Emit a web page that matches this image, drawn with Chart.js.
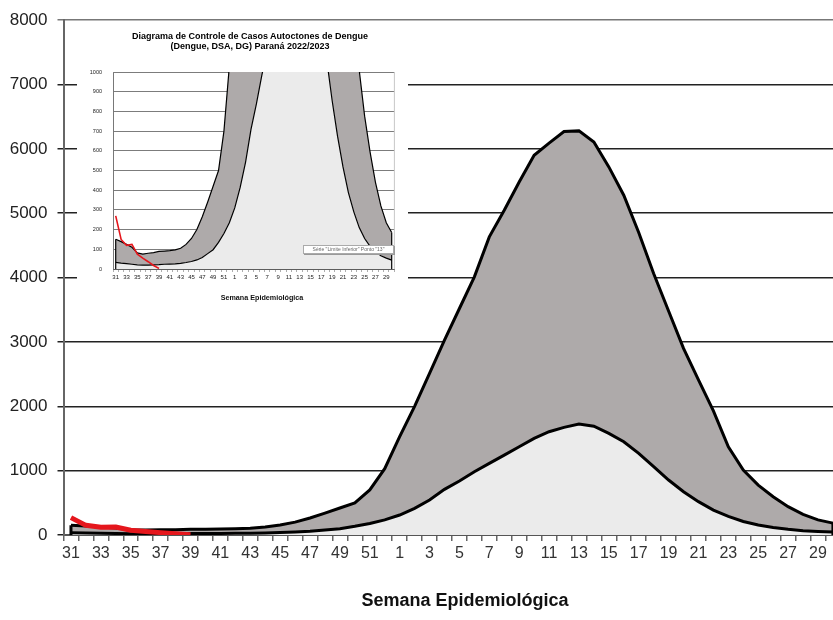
<!DOCTYPE html>
<html>
<head>
<meta charset="utf-8">
<script src="https://cdn.jsdelivr.net/npm/chart.js@4.4.0/dist/chart.umd.min.js"></script>
<style>
  html, body { margin: 0; padding: 0; background: #fff; overflow: hidden; width: 833px; height: 620px; }
  #main-wrap { position: absolute; left: 0; top: 0; width: 845px; height: 620px; }
  #inset-wrap { position: absolute; left: 77px; top: 23px; width: 331px; height: 282px; background: #fff; }
  .axis-title { position: absolute; font-family: 'Liberation Sans', Arial, sans-serif; font-weight: bold; color: #111; text-align: center; white-space: nowrap; }
  #main-xtitle { left: 315px; width: 300px; top: 589px; font-size: 18px; line-height: 22px; }
  #inset-title { left: 0; width: 346px; top: 7.5px; font-size: 9px; line-height: 10px; color: #000; }
  #inset-xtitle { left: 108px; width: 154px; top: 270px; font-size: 7.2px; line-height: 9px; }
  #inset-note { position: absolute; left: 226px; top: 222px; width: 89px; height: 7px; border: 1px solid #aaa; background: #fff;
    box-shadow: 1px 1px 0 #999; font-family: 'Liberation Sans', Arial, sans-serif; font-size: 5px; line-height: 7px; color: #666; text-align: center; white-space: nowrap; }
</style>
</head>
<body>
<div id="main-wrap"><canvas id="main"></canvas></div>
<div id="main-xtitle" class="axis-title">Semana Epidemiológica</div>
<div id="inset-wrap">
  <canvas id="inset"></canvas>
  <div id="inset-title" class="axis-title">Diagrama de Controle de Casos Autoctones de Dengue<br>(Dengue, DSA, DG) Paraná 2022/2023</div>
  <div id="inset-xtitle" class="axis-title">Semana Epidemiológica</div>
  <div id="inset-note">Série "Limite Inferior" Ponto "13"</div>
</div>
<script>
// epidemiological weeks, season 2022/2023
const weeks = ['31','32','33','34','35','36','37','38','39','40','41','42','43','44','45','46','47','48','49','50','51','52',
  '1','2','3','4','5','6','7','8','9','10','11','12','13','14','15','16','17','18','19','20','21','22','23','24','25','26','27','28','29','30'];

// control diagram limits
const lowerLimit = [34,30,27,24,21,20,20,21,22,24,25,26,29,33,38,46,58,78,98,135,180,235,
  310,414,543,709,838,983,1113,1242,1371,1501,1605,1672,1723,1690,1579,1449,1268,1061,854,673,518,388,290,210,155,115,88,67,55,45];
const upperLimit = [151,139,125,110,82,76,80,83,89,91,93,97,105,125,155,200,265,340,420,500,700,1030,
  1527,2000,2512,3028,3520,4012,4633,5047,5486,5900,6090,6270,6280,6108,5720,5280,4700,4063,3480,2900,2410,1930,1371,1009,776,595,440,320,235,185];

// autochthonous cases so far
const cases = [270,150,120,125,75,55,37,18,3];

const yTicksMain = 1000;
const yTicksInset = 100;

const family = "'Liberation Sans', Arial, sans-serif";
const fillLight = '#ebebeb';
const fillDark = '#aeaaaa';

// black vertical sides of the band at both ends (like the excel area border)
const edgePlugin = {
  id: 'edges',
  afterDatasetsDraw(chart, args, opts) {
    const { ctx, scales: { x, y }, chartArea } = chart;
    const last = weeks.length - 1;
    ctx.save();
    ctx.beginPath();
    ctx.rect(chartArea.left, chartArea.top, chartArea.width, chartArea.height);
    ctx.clip();
    ctx.strokeStyle = '#000';
    ctx.lineWidth = opts.width;
    [0, last].forEach(i => {
      const px = x.getPixelForValue(i);
      ctx.beginPath();
      ctx.moveTo(px, y.getPixelForValue(0));
      ctx.lineTo(px, y.getPixelForValue(upperLimit[i]));
      ctx.stroke();
    });
    if (opts.frame) {
      ctx.restore();
      ctx.save();
      ctx.strokeStyle = opts.frame;
      ctx.lineWidth = 1;
      ctx.beginPath();
      ctx.moveTo(chartArea.right, chartArea.top);
      ctx.lineTo(chartArea.right, chartArea.bottom);
      ctx.stroke();
    }
    ctx.restore();
  }
};

function makeDatasets(lineW, redW) {
  return [
    { label: 'Casos', data: cases, borderColor: '#e5161c', borderWidth: redW, fill: false, pointRadius: 0, tension: 0 },
    { label: 'Limite Inferior', data: lowerLimit, borderColor: '#000', borderWidth: lineW, backgroundColor: fillLight, fill: 'origin', pointRadius: 0, tension: 0 },
    { label: 'Limite Superior', data: upperLimit, borderColor: '#000', borderWidth: lineW, backgroundColor: fillDark, fill: '-1', pointRadius: 0, tension: 0 }
  ];
}

const plainNumber = v => String(v);

// main chart
new Chart(document.getElementById('main'), {
  type: 'line',
  data: { labels: weeks, datasets: makeDatasets(3, 5) },
  plugins: [edgePlugin],
  options: {
    responsive: true,
    maintainAspectRatio: false,
    animation: false,
    events: [],
    layout: { padding: { top: 20, right: 4.6, left: 0, bottom: 0 } },
    plugins: {
      legend: { display: false },
      title: { display: false },
      tooltip: { enabled: false },
      edges: { width: 3 }
    },
    scales: {
      x: {
        type: 'category',
        offset: true,
        grid: { offset: true, drawOnChartArea: false, drawTicks: true, tickLength: 6, color: '#666', lineWidth: 1.5 },
        border: { display: true, color: '#555', width: 2 },
        ticks: {
          autoSkip: false, maxRotation: 0, padding: 3, color: '#333',
          font: { size: 16, family },
          callback: (v, i) => (i % 2 === 0 ? weeks[i] : '')
        },
        afterFit: s => { s.height = 85; }
      },
      y: {
        min: 0,
        max: 8000,
        ticks: { stepSize: yTicksMain, padding: 10, color: '#222', font: { size: 17, family }, callback: plainNumber },
        grid: {
          color: c => (c.tick && c.tick.value === 8000 ? '#777' : '#222'),
          lineWidth: 1.5, tickLength: 6
        },
        border: { color: '#666', width: 2 },
        afterFit: s => { s.width = 63.5; }
      }
    }
  }
});

// inset chart: same data, zoomed to 0-1000
new Chart(document.getElementById('inset'), {
  type: 'line',
  data: { labels: weeks, datasets: makeDatasets(1.2, 1.6) },
  plugins: [edgePlugin],
  options: {
    responsive: true,
    maintainAspectRatio: false,
    animation: false,
    events: [],
    layout: { padding: { top: 49, right: 13.6, left: 0, bottom: 0 } },
    plugins: {
      legend: { display: false },
      tooltip: { enabled: false },
      title: { display: false },
      edges: { width: 1.2, frame: '#c8c8c8' }
    },
    scales: {
      x: {
        type: 'category',
        offset: true,
        grid: { offset: true, drawOnChartArea: false, drawTicks: true, tickLength: 3, color: '#777', lineWidth: 0.6 },
        border: { display: true, color: '#555', width: 0.8 },
        ticks: {
          autoSkip: false, maxRotation: 0, padding: 1.5, color: '#222',
          font: { size: 6, family },
          callback: (v, i) => (i % 2 === 0 ? weeks[i] : '')
        },
        afterFit: s => { s.height = 36; }
      },
      y: {
        min: 0,
        max: 1000,
        ticks: { stepSize: yTicksInset, padding: 11, color: '#222', font: { size: 5.5, family }, callback: plainNumber },
        grid: { color: '#444', lineWidth: 0.7, drawTicks: false },
        border: { color: '#555', width: 0.8 },
        afterFit: s => { s.width = 36; }
      }
    }
  }
});
</script>
</body>
</html>
